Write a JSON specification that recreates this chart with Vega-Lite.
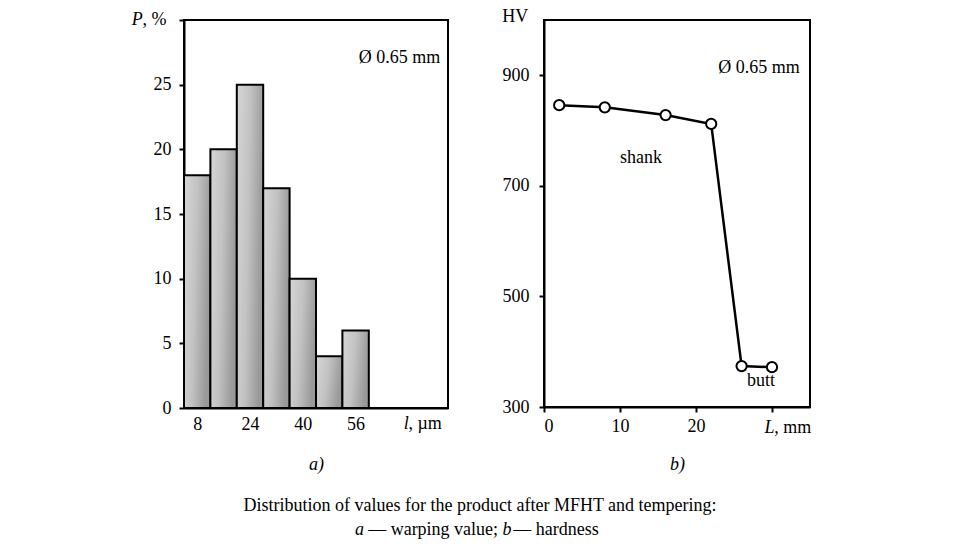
{
  "$schema": "https://vega.github.io/schema/vega-lite/v6.json",
  "padding": {"left": 130, "top": 7, "right": 5, "bottom": 5},
  "background": "white",
  "bounds": "flush",
  "spacing": 96,
  "config": {
    "font": "Liberation Serif",
    "view": {"stroke": "black", "strokeWidth": 2},
    "axis": {
      "domainColor": "black", "domainWidth": 2, "tickColor": "black", "tickWidth": 2,
      "labelFont": "Liberation Serif", "labelFontSize": 18, "labelColor": "black",
      "titleFont": "Liberation Serif", "titleFontSize": 18, "titleFontWeight": "normal",
      "titleFontStyle": "italic", "titleColor": "black", "grid": false
    },
    "text": {"font": "Liberation Serif", "fontSize": 18, "color": "black", "baseline": "middle"}
  },
  "datasets": {
    "warping": [
      {"l_start": 4, "l_end": 12, "P": 18},
      {"l_start": 12, "l_end": 20, "P": 20},
      {"l_start": 20, "l_end": 28, "P": 25},
      {"l_start": 28, "l_end": 36, "P": 17},
      {"l_start": 36, "l_end": 44, "P": 10},
      {"l_start": 44, "l_end": 52, "P": 4},
      {"l_start": 52, "l_end": 60, "P": 6}
    ],
    "hardness": [
      {"L": 2, "HV": 846},
      {"L": 8, "HV": 842},
      {"L": 16, "HV": 828},
      {"L": 22, "HV": 812},
      {"L": 26, "HV": 374},
      {"L": 30, "HV": 372}
    ],
    "left_labels": [
      {"x": -11.8, "y": 30, "t": "P", "style": "italic", "align": "left"},
      {"x": -8.6, "y": 30, "t": ", %", "style": "normal", "align": "left"},
      {"x": 70.6, "y": -1.25, "t": "l", "style": "italic", "align": "left"},
      {"x": 72.0, "y": -1.25, "t": ", µm", "style": "normal", "align": "left"},
      {"x": 69.3, "y": 27.07, "t": "Ø 0.65 mm", "style": "normal", "align": "center"},
      {"x": 93.7, "y": -7.58, "t": "Distribution of values for the product after MFHT and tempering:", "style": "normal", "align": "center"},
      {"x": 55.8, "y": -9.44, "t": "a", "style": "italic", "align": "left"},
      {"x": 59.8, "y": -9.44, "t": "— warping value;", "style": "normal", "align": "left"},
      {"x": 100.5, "y": -9.44, "t": "b", "style": "italic", "align": "left"},
      {"x": 103.8, "y": -9.44, "t": "— hardness", "style": "normal", "align": "left"}
    ],
    "right_labels": [
      {"x": -5.5, "y": 1005, "t": "HV", "style": "normal", "align": "left"},
      {"x": 29.0, "y": 262, "t": "L", "style": "italic", "align": "left"},
      {"x": 30.3, "y": 262, "t": ", mm", "style": "normal", "align": "left"},
      {"x": 28.3, "y": 914, "t": "Ø 0.65 mm", "style": "normal", "align": "center"},
      {"x": 12.76, "y": 750, "t": "shank", "style": "normal", "align": "center"},
      {"x": 28.55, "y": 347, "t": "butt", "style": "normal", "align": "center"}
    ]
  },
  "hconcat": [
    {
      "width": 264,
      "height": 388,
      "layer": [
        {
          "data": {"name": "warping"},
          "mark": {
            "type": "bar",
            "stroke": "black",
            "strokeWidth": 2,
            "color": {
              "gradient": "linear", "x1": 0, "y1": 0, "x2": 1, "y2": 0.25,
              "stops": [
                {"offset": 0, "color": "#d6d6d6"},
                {"offset": 0.5, "color": "#c2c2c2"},
                {"offset": 1, "color": "#999999"}
              ]
            }
          },
          "encoding": {
            "x": {
              "field": "l_start", "type": "quantitative",
              "scale": {"domain": [4, 84], "nice": false, "zero": false},
              "axis": {"values": [8, 24, 40, 56], "ticks": false, "labelPadding": 7, "title": "a)", "titlePadding": 22}
            },
            "x2": {"field": "l_end"},
            "y": {
              "field": "P", "type": "quantitative",
              "scale": {"domain": [0, 30], "nice": false},
              "axis": {
                "values": [0, 5, 10, 15, 20, 25, 30],
                "labelExpr": "datum.value == 30 ? '' : datum.label",
                "tickSize": 5, "labelPadding": 8, "title": null
              }
            },
            "y2": {"datum": 0}
          }
        },
        {
          "data": {"name": "left_labels"},
          "transform": [{"filter": "datum.align == 'left' && datum.style == 'normal'"}],
          "mark": {"type": "text", "align": "left"},
          "encoding": {
            "x": {"field": "x", "type": "quantitative"},
            "y": {"field": "y", "type": "quantitative"},
            "text": {"field": "t"}
          }
        },
        {
          "data": {"name": "left_labels"},
          "transform": [{"filter": "datum.align == 'left' && datum.style == 'italic'"}],
          "mark": {"type": "text", "align": "left", "fontStyle": "italic"},
          "encoding": {
            "x": {"field": "x", "type": "quantitative"},
            "y": {"field": "y", "type": "quantitative"},
            "text": {"field": "t"}
          }
        },
        {
          "data": {"name": "left_labels"},
          "transform": [{"filter": "datum.align == 'center'"}],
          "mark": {"type": "text", "align": "center"},
          "encoding": {
            "x": {"field": "x", "type": "quantitative"},
            "y": {"field": "y", "type": "quantitative"},
            "text": {"field": "t"}
          }
        }
      ]
    },
    {
      "width": 266,
      "height": 387,
      "layer": [
        {
          "data": {"name": "hardness"},
          "mark": {"type": "line", "color": "black", "strokeWidth": 2.5},
          "encoding": {
            "x": {
              "field": "L", "type": "quantitative",
              "scale": {"domain": [0, 35], "nice": false},
              "axis": {
                "values": [0, 10, 20, 30],
                "labelExpr": "datum.value == 30 ? '' : datum.label",
                "tickSize": 5, "labelPadding": 5, "title": "b)", "titlePadding": 20
              }
            },
            "y": {
              "field": "HV", "type": "quantitative",
              "scale": {"domain": [300, 1000], "nice": false, "zero": false},
              "axis": {"values": [300, 500, 700, 900], "tickSize": 5, "labelPadding": 10, "title": null}
            }
          }
        },
        {
          "data": {"name": "hardness"},
          "mark": {"type": "point", "shape": "circle", "filled": true, "fill": "white", "stroke": "black", "strokeWidth": 2, "size": 105, "opacity": 1},
          "encoding": {
            "x": {"field": "L", "type": "quantitative"},
            "y": {"field": "HV", "type": "quantitative"}
          }
        },
        {
          "data": {"name": "right_labels"},
          "transform": [{"filter": "datum.align == 'left' && datum.style == 'normal'"}],
          "mark": {"type": "text", "align": "left"},
          "encoding": {
            "x": {"field": "x", "type": "quantitative"},
            "y": {"field": "y", "type": "quantitative"},
            "text": {"field": "t"}
          }
        },
        {
          "data": {"name": "right_labels"},
          "transform": [{"filter": "datum.align == 'left' && datum.style == 'italic'"}],
          "mark": {"type": "text", "align": "left", "fontStyle": "italic"},
          "encoding": {
            "x": {"field": "x", "type": "quantitative"},
            "y": {"field": "y", "type": "quantitative"},
            "text": {"field": "t"}
          }
        },
        {
          "data": {"name": "right_labels"},
          "transform": [{"filter": "datum.align == 'center'"}],
          "mark": {"type": "text", "align": "center"},
          "encoding": {
            "x": {"field": "x", "type": "quantitative"},
            "y": {"field": "y", "type": "quantitative"},
            "text": {"field": "t"}
          }
        }
      ]
    }
  ]
}
